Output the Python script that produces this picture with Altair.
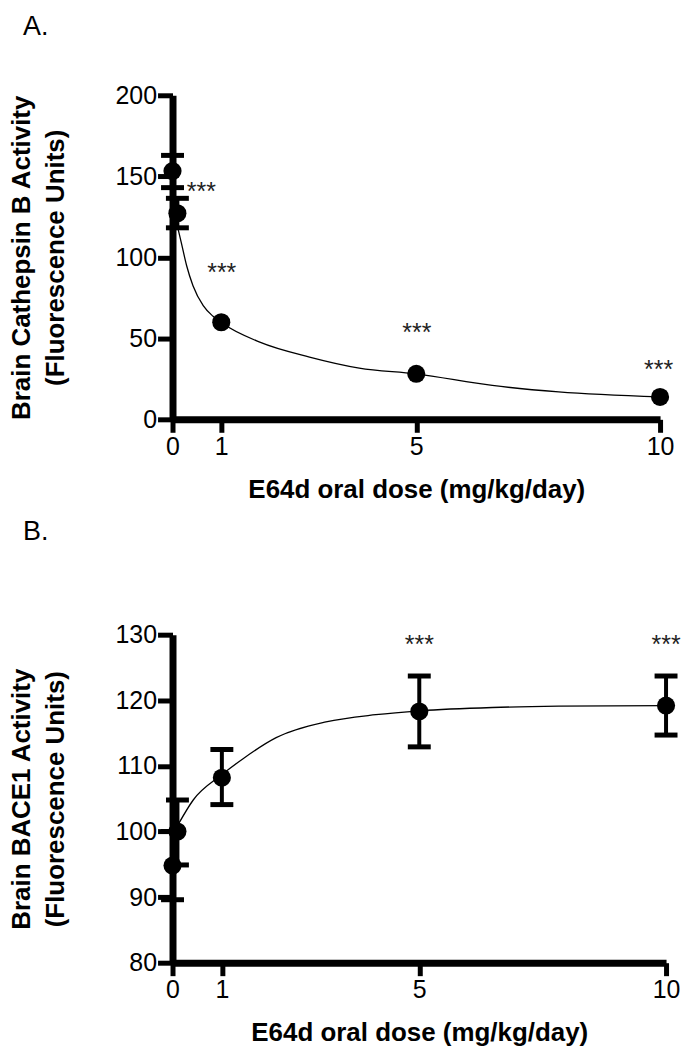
import altair as alt
import pandas as pd

# ---------------- Panel A: Cathepsin B ----------------
a_dose = [0, 0.1, 1, 5, 10]
a_mean = [153.2, 127.2, 59.9, 28.1, 13.8]
a_err_dose = [0, 0.1]
a_err_low = [143.0, 118.2]
a_err_high = [162.9, 136.4]
a_curve_dose = [0.115, 0.18, 0.29, 0.42, 0.63, 0.83, 0.99, 1.79, 2.81, 3.83, 4.99, 6.56, 7.92, 10]
a_curve_val = [117.4, 109.1, 94.8, 82.5, 70.2, 63.6, 59.9, 47.6, 38.4, 31.6, 28.1, 20.9, 16.9, 13.8]
a_star_dose = [0.59, 1.01, 5.01, 9.97]
a_star_val = [144.0, 94.2, 56.8, 34.2]
a_yticks = [0, 50, 100, 150, 200]

# ---------------- Panel B: BACE1 ----------------
b_dose = [0, 0.1, 1, 5, 10]
b_mean = [94.8, 100.0, 108.2, 118.3, 119.2]
b_low = [89.6, 94.9, 104.1, 112.9, 114.7]
b_high = [100.0, 104.8, 112.5, 123.7, 123.7]
b_curve_dose = [0.11, 0.42, 0.99, 1.43, 2.10, 3.11, 4.12, 5.02, 6.48, 7.82, 10]
b_curve_val = [101.0, 104.8, 108.6, 111.1, 114.3, 116.7, 117.8, 118.4, 118.9, 119.1, 119.2]
b_star_dose = [5, 10]
b_star_val = [129.3, 129.3]
b_yticks = [80, 90, 100, 110, 120, 130]

x_ticks = [0, 1, 5, 10]
star_text = "***"
x_title = "E64d oral dose (mg/kg/day)"

FONT = "Liberation Sans"


def panel(label, ytitle, ydom, yticks, curve, pts, err, stars, w, h, toff):
    xs = alt.Scale(domain=[0, 10], nice=False, zero=False)
    ys = alt.Scale(domain=ydom, nice=False, zero=False)
    x_axis = alt.Axis(values=x_ticks, title=x_title, format="d", labelFlush=False)
    y_axis = alt.Axis(values=yticks, title=ytitle, format="d", labelFlush=False)

    def X(f):
        return alt.X(f, scale=xs, axis=x_axis)

    def Y(f):
        return alt.Y(f, scale=ys, axis=y_axis)

    curve_layer = alt.Chart(pd.DataFrame(curve)).mark_line(
        color="black", strokeWidth=1.3, interpolate="monotone"
    ).encode(x=X("dose:Q"), y=Y("val:Q"))
    edf = pd.DataFrame(err)
    rule_layer = alt.Chart(edf).mark_rule(color="black", strokeWidth=4).encode(
        x=X("dose:Q"), y=Y("low:Q"), y2="high:Q"
    )
    cap_lo = alt.Chart(edf).mark_tick(
        color="black", orient="horizontal", size=23, thickness=5, opacity=1
    ).encode(x=X("dose:Q"), y=Y("low:Q"))
    cap_hi = alt.Chart(edf).mark_tick(
        color="black", orient="horizontal", size=23, thickness=5, opacity=1
    ).encode(x=X("dose:Q"), y=Y("high:Q"))
    pt_layer = alt.Chart(pd.DataFrame(pts)).mark_circle(
        color="black", size=330, opacity=1
    ).encode(x=X("dose:Q"), y=Y("val:Q"))
    star_layer = alt.Chart(pd.DataFrame(stars)).mark_text(
        font=FONT, fontSize=25, color="#222222", baseline="middle", dy=6
    ).encode(x=X("dose:Q"), y=Y("val:Q"), text="txt:N")

    return alt.layer(curve_layer, rule_layer, cap_lo, cap_hi, pt_layer, star_layer).properties(
        width=w,
        height=h,
        title=alt.TitleParams(
            label, anchor="start", frame="group", dx=-150, fontSize=27,
            fontWeight="normal", font=FONT, color="black", offset=toff,
        ),
    )


chart_a = panel(
    "A.",
    ["Brain Cathepsin B Activity", "(Fluorescence Units)"],
    [0, 200], a_yticks,
    {"dose": a_curve_dose, "val": a_curve_val},
    {"dose": a_dose, "val": a_mean},
    {"dose": a_err_dose, "low": a_err_low, "high": a_err_high},
    {"dose": a_star_dose, "val": a_star_val, "txt": [star_text] * len(a_star_dose)},
    489, 325, 42,
)
chart_b = panel(
    "B.",
    ["Brain BACE1 Activity", "(Fluorescence Units)"],
    [80, 130], b_yticks,
    {"dose": b_curve_dose, "val": b_curve_val},
    {"dose": b_dose, "val": b_mean},
    {"dose": b_dose, "low": b_low, "high": b_high},
    {"dose": b_star_dose, "val": b_star_val, "txt": [star_text] * len(b_star_dose)},
    495, 329, 77,
)

chart = alt.vconcat(chart_a, chart_b, spacing=16).properties(
    padding={"left": 0, "top": 4, "right": 0, "bottom": 0}, background="white"
).configure_view(stroke=None).configure_axis(
    domainColor="black", domainWidth=7, tickColor="black", tickWidth=5,
    tickSize=13, labelFont=FONT, labelFontSize=25, labelColor="black",
    labelPadding=2, grid=False, titleColor="black",
).configure_axisY(
    tickSize=15, labelPadding=1, titleFont=FONT, titleFontSize=26,
    titleFontWeight="bold", titlePadding=47, titleLineHeight=34,
).configure_axisX(
    titleFont=FONT, titleFontSize=26, titleFontWeight="bold", titlePadding=17,
)

chart.save("out.html", embed_options={"renderer": "svg", "actions": False})
